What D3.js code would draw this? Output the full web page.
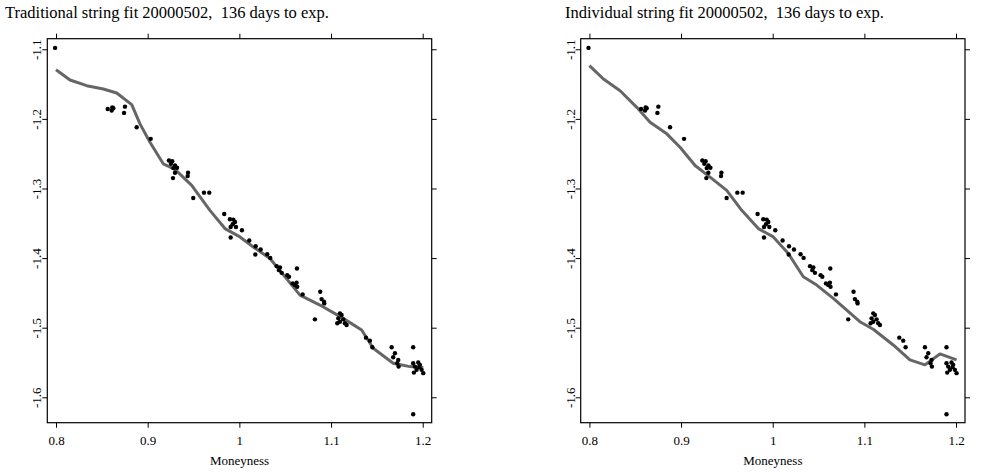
<!DOCTYPE html>
<html><head><meta charset="utf-8">
<script src="https://cdn.jsdelivr.net/npm/d3@7"></script>
<style>
body{margin:0;background:#fff;}
svg text{font-family:"Liberation Serif","Times New Roman",serif;fill:#000;white-space:pre;}
</style></head>
<body><svg id="c" width="1003" height="472"></svg>
<script>
// observed option points (moneyness, value) - shared by both panels
const obsX = [0.799,0.8564,0.8614,0.8625,0.8607,0.8752,0.8742,0.888,0.9033,
 0.9232,0.9268,0.9254,0.9298,0.932,0.928,0.9298,0.9276,0.944,0.9436,0.9497,0.9614,0.9672,
 0.9835,0.9897,0.9934,0.9952,0.9927,0.9963,0.9905,0.9905,1.0028,1.0108,1.0178,1.0232,1.0174,1.0304,1.0337,
 1.0407,1.0443,1.0432,1.0461,1.0522,1.0541,1.0581,1.0606,1.0624,1.0631,1.0628,
 1.069,1.0824,1.0882,1.0897,1.0923,1.0926,
 1.1097,1.1115,1.1079,1.1133,1.1068,1.1097,1.1151,1.117,
 1.1381,1.1424,1.145,1.1661,1.1697,1.1678,1.1733,1.1722,1.1737,
 1.1896,1.1896,1.1915,1.1951,1.1969,1.1933,1.1904,1.1988,1.2006,1.1962,1.1896];
const obsY = [-1.098,-1.1857,-1.1834,-1.1848,-1.188,-1.1824,-1.1914,-1.212,-1.2287,
 -1.2597,-1.2607,-1.2645,-1.2669,-1.2702,-1.2707,-1.2774,-1.2851,-1.2774,-1.2822,-1.3137,-1.306,-1.306,
 -1.3367,-1.3443,-1.3447,-1.3481,-1.3514,-1.3553,-1.3553,-1.3705,-1.36,-1.3748,-1.383,-1.3877,-1.3949,-1.3944,-1.3997,
 -1.4116,-1.4135,-1.4173,-1.4212,-1.4245,-1.4269,-1.4364,-1.4388,-1.4355,-1.4413,-1.4149,
 -1.4522,-1.488,-1.4484,-1.4589,-1.4627,-1.4651,
 -1.4794,-1.4818,-1.4866,-1.488,-1.4937,-1.4914,-1.4937,-1.4961,
 -1.5143,-1.5186,-1.5281,-1.5281,-1.5367,-1.5424,-1.5463,-1.551,-1.5559,
 -1.5281,-1.551,-1.5559,-1.5501,-1.5534,-1.5606,-1.5645,-1.5606,-1.5653,-1.5567,-1.6244];

// traditional string fit
const tradX = [0.8,0.8153,0.8335,0.8516,0.8662,0.8826,0.8916,0.9025,0.917,0.9298,0.948,0.9679,0.9843,1.0007,1.0152,1.0334,1.0588,1.0661,1.0879,1.1133,1.1334,1.146,1.1678,1.186,1.2006];
const tradY = [-1.1294,-1.1441,-1.1523,-1.157,-1.1628,-1.1795,-1.2072,-1.2335,-1.2645,-1.2726,-1.2956,-1.3314,-1.3576,-1.3696,-1.384,-1.4006,-1.4413,-1.4532,-1.4675,-1.4866,-1.5033,-1.5295,-1.551,-1.5559,-1.5573];
// individual string fit
const indX = [0.8,0.8153,0.8335,0.8517,0.8662,0.8844,0.8989,0.9153,0.9316,0.9498,0.9662,0.9843,1.0007,1.017,1.0334,1.048,1.0661,1.0951,1.1097,1.1315,1.1497,1.166,1.1824,1.2006];
const indY = [-1.1236,-1.1427,-1.1595,-1.1834,-1.2049,-1.2215,-1.2407,-1.2669,-1.2837,-1.3027,-1.3314,-1.3576,-1.3696,-1.3934,-1.4269,-1.4388,-1.4579,-1.4914,-1.5023,-1.5248,-1.5463,-1.5534,-1.5377,-1.5463];

const xTicks = [0.8,0.9,1.0,1.1,1.2];
const xTickLabels = ["0.8","0.9","1","1.1","1.2"];
const yTicks = [-1.1,-1.2,-1.3,-1.4,-1.5,-1.6];
const yTickLabels = ["-1.1","-1.2","-1.3","-1.4","-1.5","-1.6"];
const titles = ["Traditional string fit 20000502,  136 days to exp.","Individual string fit 20000502,  136 days to exp."];
const xLabel = "Moneyness";

const svg = d3.select("#c");
const panels = [
  {left:47.3,right:431.7,titleX:5,lx:tradX,ly:tradY},
  {left:580.7,right:965,titleX:565,lx:indX,ly:indY}
];
const plotTop = 38.7, plotBottom = 422.7;
const y = d3.scaleLinear().domain([-1.6365,-1.0848]).range([plotBottom,plotTop]);

panels.forEach((p,i)=>{
  const x = d3.scaleLinear().domain([0.7905,1.2098]).range([p.left,p.right]);
  const g = svg.append("g");
  // bottom axis
  const ax = g.append("g").attr("transform",`translate(0,${plotBottom})`)
    .call(d3.axisBottom(x).tickValues(xTicks).tickFormat((d,k)=>xTickLabels[k]).tickSize(5).tickSizeOuter(0).tickPadding(8));
  ax.select(".domain").remove();
  ax.selectAll("text").attr("font-size",13).style("font-family","Liberation Serif");
  // top axis
  const at = g.append("g").attr("transform",`translate(0,${plotTop})`)
    .call(d3.axisTop(x).tickValues(xTicks).tickFormat("").tickSize(5).tickSizeOuter(0));
  at.select(".domain").remove();
  // left axis
  const al = g.append("g").attr("transform",`translate(${p.left},0)`)
    .call(d3.axisLeft(y).tickValues(yTicks).tickFormat((d,k)=>yTickLabels[k]).tickSize(5).tickSizeOuter(0).tickPadding(6));
  al.select(".domain").remove();
  al.selectAll("text").attr("font-size",13).style("font-family","Liberation Serif")
    .attr("text-anchor","middle").attr("x",0).attr("dy",0)
    .attr("transform","translate(-6,0) rotate(-90)");
  // right axis
  const ar = g.append("g").attr("transform",`translate(${p.right},0)`)
    .call(d3.axisRight(y).tickValues(yTicks).tickFormat("").tickSize(5).tickSizeOuter(0));
  ar.select(".domain").remove();
  g.selectAll(".tick line").attr("stroke","#000");
  // frame
  g.append("rect").attr("x",p.left).attr("y",plotTop).attr("width",p.right-p.left).attr("height",plotBottom-plotTop)
    .attr("fill","none").attr("stroke","#000").attr("stroke-width",1.2);
  // fitted line
  const line = d3.line().x(d=>x(d[0])).y(d=>y(d[1]));
  g.append("path").datum(p.lx.map((v,k)=>[v,p.ly[k]])).attr("d",line)
    .attr("fill","none").attr("stroke","#666").attr("stroke-width",3).attr("stroke-linejoin","round");
  // points
  g.selectAll("circle.pt").data(obsX.map((v,k)=>[v,obsY[k]])).enter().append("circle")
    .attr("cx",d=>x(d[0])).attr("cy",d=>y(d[1])).attr("r",2.2).attr("fill","#000");
  // x label
  g.append("text").attr("x",(p.left+p.right)/2).attr("y",465).attr("text-anchor","middle")
    .attr("font-size",13).text(xLabel);
  // title
  g.append("text").attr("x",p.titleX).attr("y",18).attr("font-size",16.5).text(titles[i]);
});
</script></body></html>
